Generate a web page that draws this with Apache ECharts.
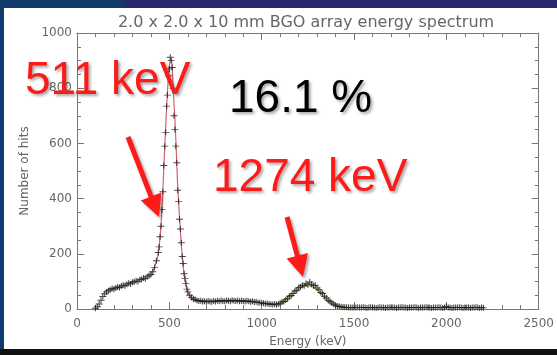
<!DOCTYPE html>
<html>
<head>
<meta charset="utf-8">
<script src="https://cdn.jsdelivr.net/npm/echarts@6/dist/echarts.min.js"></script>
<style>
html,body{margin:0;padding:0;background:#fff;}
#c{width:557px;height:355px;}
</style>
</head>
<body>
<div id="c"></div>
<script>
// ---- data (energy in keV, counts) ----
var energyLow = [100,110,120,130,140,150,160,170,180,190,200,210,220,230,240,250,260,270,280,290,300,310,320,330,340,350,360,370,380,390,400,410,420,430];
var hitsLow   = [3,8,18,32,45,55,62,66,70,74,72,76,80,78,83,86,84,90,93,91,97,99,102,100,106,108,112,110,117,121,125,135,150,175];

var energyPeak = [440,445,450,455,460,465,470,475,480,485,490,495,500,505,510,515,520,525,530,535,540,545,550,555,560,565,570,575,580,585,590,595,600];
var hitsPeak   = [205,225,262,300,360,425,520,590,640,735,775,845,870,912,900,875,800,700,650,590,530,430,390,325,290,240,190,165,128,110,92,72,62];

var energyMid = [610,620,630,640,650,660,670,680,690,700,710,720,730,740,750,760,770,780,790,800,810,820,830,840,850,860,870,880,890,900,910,920,930,940,950,960,970,980,990,1000,1010,1020,1030,1040,1050,1060,1070,1080,1090];
var hitsMid   = [50,42,36,34,31,29,30,27,28,26,29,27,26,29,27,30,28,31,29,28,31,30,28,32,30,29,31,28,30,29,27,30,28,26,28,25,26,23,24,22,21,19,20,18,17,16,18,15,18];

var energyHigh = [1100,1110,1120,1130,1140,1150,1160,1170,1180,1190,1200,1210,1220,1230,1240,1250,1260,1270,1280,1290,1300,1310,1320,1330,1340,1350,1360,1370,1380,1390,1400,1410,1420,1430,1440,1450,1460,1470,1480,1490,1500];
var hitsHigh   = [21,25,27,33,37,46,49,56,65,68,77,80,86,84,92,88,98,90,84,86,76,70,60,56,46,40,32,27,22,17,14,11,9,8,7,6,6,5,5,5,5];

var energyTail = [1510,1520,1530,1540,1550,1560,1570,1580,1590,1600,1610,1620,1630,1640,1650,1660,1670,1680,1690,1700,1710,1720,1730,1740,1750,1760,1770,1780,1790,1800,1810,1820,1830,1840,1850,1860,1870,1880,1890,1900,1910,1920,1930,1940,1950,1960,1970,1980,1990,2000,2010,2020,2030,2040,2050,2060,2070,2080,2090,2100,2110,2120,2130,2140,2150,2160,2170,2180,2190,2200];
var hitsTail   = [5,6,5,5,6,5,4,5,6,5,5,4,5,6,5,5,4,5,5,6,5,5,4,5,5,6,5,5,4,5,5,5,6,5,4,5,5,5,6,5,5,4,5,5,5,6,5,4,5,9,5,5,4,5,5,5,6,5,4,5,5,5,4,5,5,6,5,4,5,4];

// 511 keV photopeak fit (red)
var fit511Energy = [400,410,420,430,440,445,450,455,460,465,470,475,480,485,490,495,500,505,510,515,520,525,530,535,540,545,550,555,560,565,570,575,580,585,590,595,600,610,620,630,640,650,660,670,680,690,700];
var fit511Hits   = [128,138,152,172,200,228,262,305,360,430,510,585,655,725,790,842,878,900,905,880,810,745,690,615,530,450,390,330,280,232,190,155,128,106,88,74,63,49,41,36,33,30,29,28,27,27,27];

// 1274 keV peak fit (yellow)
var fit1274Energy = [1100,1110,1120,1130,1140,1150,1160,1170,1180,1190,1200,1210,1220,1230,1240,1250,1260,1270,1280,1290,1300,1310,1320,1330,1340,1350,1360,1370,1380,1390,1400,1410,1420,1430,1440,1450,1460,1470,1480,1490,1500];
var fit1274Hits   = [22,25,29,34,39,45,51,57,63,69,74,78,81,83,84,84,83,81,78,74,69,63,57,50,43,37,31,26,21,17,13,10,8,6,5,4,3,3,2,2,2];

var xTicks = [0,500,1000,1500,2000,2500];
var yTicks = [0,200,400,600,800,1000];

var titleText = '2.0 x 2.0 x 10 mm BGO array energy spectrum';
var xName = 'Energy (keV)';
var yName = 'Number of hits';
var notes = ['511 keV', '16.1 %', '1274 keV'];

function pairs(xs, ys){ var o=[]; for (var i=0;i<xs.length;i++) o.push([xs[i], ys[i]]); return o; }
var spectrum = [].concat(
  pairs(energyLow, hitsLow), pairs(energyPeak, hitsPeak), pairs(energyMid, hitsMid),
  pairs(energyHigh, hitsHigh), pairs(energyTail, hitsTail));

var chart = echarts.init(document.getElementById('c'), null, {renderer:'canvas'});
var axisCol = '#777', labCol = '#666', FF = 'DejaVu Sans';
function plain(v){ return String(v); }
function xAx(pos, showLab){
  return {type:'value', position:pos, min:xTicks[0], max:xTicks[xTicks.length-1], interval:500,
    axisLine:{show:true, onZero:false, lineStyle:{color:axisCol, width:1}},
    axisTick:{show:true, inside:true, length:7, lineStyle:{color:axisCol}},
    minorTick:{show:true, splitNumber:5, length:4, lineStyle:{color:axisCol}},
    splitLine:{show:false},
    axisLabel:{show:showLab, color:labCol, fontFamily:FF, fontSize:12, margin:9, formatter:plain},
    name: showLab ? xName : '', nameLocation:'middle', nameGap:27,
    nameTextStyle:{color:labCol, fontFamily:FF, fontSize:12}};
}
function yAx(pos, showLab){
  return {type:'value', position:pos, min:yTicks[0], max:yTicks[yTicks.length-1], interval:200,
    axisLine:{show:true, onZero:false, lineStyle:{color:axisCol, width:1}},
    axisTick:{show:true, inside:true, length:7, lineStyle:{color:axisCol}},
    minorTick:{show:true, splitNumber:4, length:4, lineStyle:{color:axisCol}},
    splitLine:{show:false},
    axisLabel:{show:showLab, color:labCol, fontFamily:FF, fontSize:12, margin:5, formatter:plain},
    name: showLab ? yName : '', nameLocation:'middle', nameGap:37, nameRotate:90,
    nameTextStyle:{color:labCol, fontFamily:FF, fontSize:12}};
}

var shadow = {shadowColor:'rgba(0,0,0,0.35)', shadowBlur:3, shadowOffsetX:2, shadowOffsetY:2};
function note(txt, x, y, col){
  return {type:'text', z:100, style:Object.assign({text:txt, x:x, y:y, fill:col,
    font:'46px "Liberation Sans", Arial, sans-serif', textAlign:'left', textVerticalAlign:'middle', verticalAlign:'middle',
    textShadowColor:'rgba(0,0,0,0.35)', textShadowBlur:3, textShadowOffsetX:2, textShadowOffsetY:2}, shadow)};
}
function arrow(x1,y1,x2,y2){
  var dx=x2-x1, dy=y2-y1, L=Math.sqrt(dx*dx+dy*dy), ux=dx/L, uy=dy/L;
  var hl=22, hw=11, bx=x2-hl*ux, by=y2-hl*uy, px=-uy, py=ux;
  return [
    {type:'line', z:100, shape:{x1:x1,y1:y1,x2:bx+4*ux,y2:by+4*uy}, style:Object.assign({stroke:'#ff1a1a', lineWidth:5}, shadow)},
    {type:'polygon', z:100, shape:{points:[[x2,y2],[bx+hw*px,by+hw*py],[bx-hw*px,by-hw*py]]}, style:Object.assign({fill:'#ff1a1a'}, shadow)}
  ];
}

var graphics = [
  {type:'rect', z:-10, shape:{x:0,y:0,width:557,height:8}, style:{fill:'#29296f'}},
  {type:'rect', z:-9, shape:{x:0,y:0,width:125,height:8}, style:{fill:'#123a6b'}},
  {type:'rect', z:-9, shape:{x:0,y:0,width:4,height:355}, style:{fill:'#0f3a6e'}},
  {type:'rect', z:-9, shape:{x:0,y:349,width:557,height:6}, style:{fill:'#111'}},
  {type:'text', style:{text:titleText, x:306, y:23, fill:'#666', font:'16px "DejaVu Sans"', textAlign:'center', verticalAlign:'middle', textVerticalAlign:'middle'}},
  note(notes[0], 25, 81, '#ff1a1a'),
  note(notes[1], 229, 99, '#000'),
  note(notes[2], 213, 178, '#ff1a1a')
].concat(arrow(128,137,159,217)).concat(arrow(287,217,303,277));

chart.setOption({
  animation:false,
  backgroundColor:'#fff',
  grid:{left:77, right:18, top:33, bottom:46, containLabel:false},
  xAxis:[xAx('bottom', true), xAx('top', false)],
  yAxis:[yAx('left', true), yAx('right', false)],
  graphic:graphics,
  series:[
    {type:'line', xAxisIndex:0, yAxisIndex:0, data:pairs(fit511Energy, fit511Hits), showSymbol:false, symbol:'none', smooth:0.3,
      lineStyle:{color:'#d8606c', width:1.2}, z:2, silent:true},
    {type:'line', xAxisIndex:0, yAxisIndex:0, data:pairs(fit1274Energy, fit1274Hits), showSymbol:false, symbol:'none', smooth:0.3,
      lineStyle:{color:'#d6d660', width:1.5}, z:2, silent:true},
    {type:'scatter', xAxisIndex:0, yAxisIndex:0, data:spectrum, symbol:'path://M0,4L10,4M5,0L5,8', symbolSize:[7,6],
      itemStyle:{color:'none', borderColor:'#1a1a1a', borderWidth:1}, z:3, silent:true}
  ]
});
</script>
</body>
</html>
